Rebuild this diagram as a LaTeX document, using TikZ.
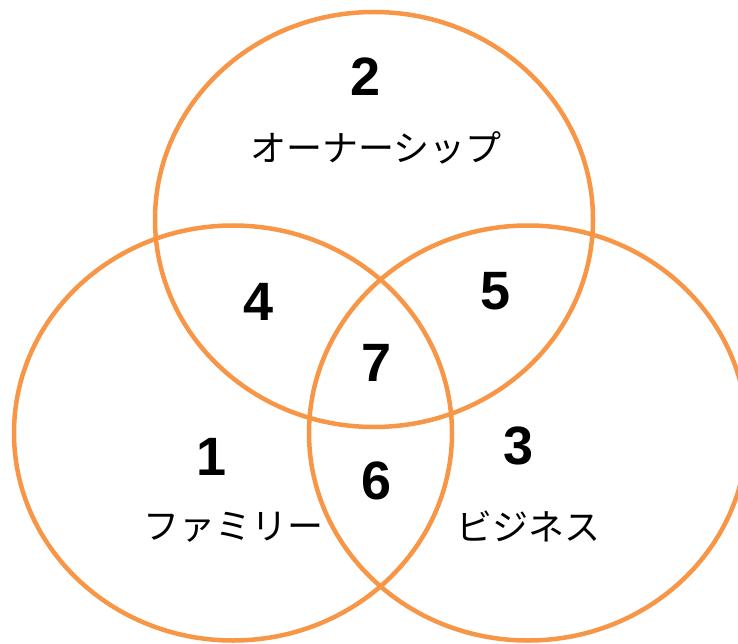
\documentclass[tikz,border=0pt]{standalone}
\usepackage{fontspec}
\setmainfont{Liberation Sans}
\newfontfamily\jpfont{Noto Sans CJK JP}
\usetikzlibrary{shapes.geometric}
\definecolor{ringorange}{HTML}{F79646}

\begin{document}
\begin{tikzpicture}[x=1pt, y=-1pt,
    ring/.style={draw=ringorange, line width=4.5pt, ellipse, minimum width=438pt, minimum height=415pt, inner sep=0pt},
    num/.style={font=\bfseries\fontsize{54}{54}\selectfont},
    lbl/.style={font=\jpfont\fontsize{36}{36}\selectfont}
]
\useasboundingbox (0,0) rectangle (738,644);

\node[ring] (owner) at (374,219.5) {};
\node[ring] (family) at (233,433) {};
\node[ring] (business) at (528,433) {};

\node[num] (n2) at (366,77) {2};
\node[num] (n4) at (259,302) {4};
\node[num] (n5) at (496,291) {5};
\node[num] (n7) at (377,363) {7};
\node[num] (n1) at (212,457) {1};
\node[num] (n6) at (377,481) {6};
\node[num] (n3) at (519,446) {3};

\node[lbl] (ownerlbl) at (376,148) {オーナーシップ};
\node[lbl] (familylbl) at (233,527) {ファミリー};
\node[lbl] (businesslbl) at (528,526) {ビジネス};
\end{tikzpicture}
\end{document}
